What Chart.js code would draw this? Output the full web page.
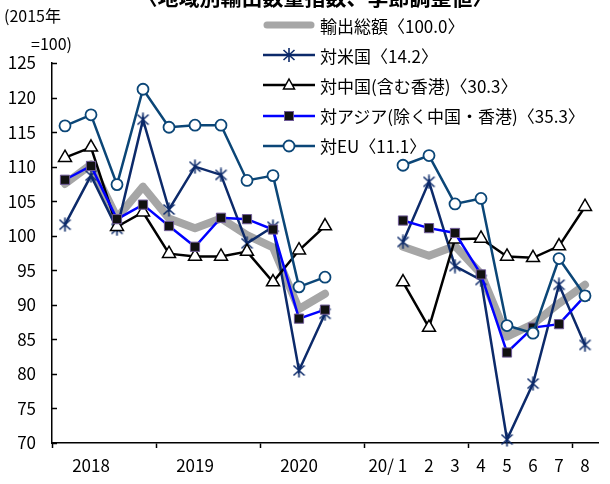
<!DOCTYPE html>
<html lang="ja">
<head>
<meta charset="utf-8">
<script src="https://cdn.jsdelivr.net/npm/chart.js@4.4.0/dist/chart.umd.min.js"></script>
<style>
html, body { margin: 0; padding: 0; background: #fff; }
#wrap { position: relative; width: 610px; height: 484px; overflow: hidden;
        font-family: 'Noto Sans CJK JP', 'Noto Sans', sans-serif; color: #000; }
#chart { position: absolute; left: 0; top: 0; }
#title { position: absolute; left: 0; width: 630px; top: -14px; text-align: center;
         font-size: 21px; font-weight: bold; line-height: 21px; white-space: nowrap; }
.unit { position: absolute; font-size: 16px; line-height: 20px; white-space: nowrap; }
#legend { position: absolute; left: 263px; top: 10px; }
.row { display: flex; align-items: center; height: 30.2px; font-size: 17px; white-space: nowrap; }
.row svg { margin-right: 5px; flex: none; }
</style>
</head>
<body>
<div id="wrap">
  <canvas id="chart" width="610" height="484"></canvas>
  <div id="title">〈地域別輸出数量指数、季節調整値〉</div>
  <div class="unit" style="left:4px;top:5px;">(2015年</div>
  <div class="unit" style="left:31px;top:33px;">=100)</div>
  <div id="legend"></div>
</div>
<script>
// Quarterly 2018Q1–2020Q3, an empty quarter, a spacer, then monthly 2020/1–8
const categories = [
  '2018Q1', '2018Q2', '2018Q3', '2018Q4',
  '2019Q1', '2019Q2', '2019Q3', '2019Q4',
  '2020Q1', '2020Q2', '2020Q3', '2020Q4',
  'gap',
  '20/1', '20/2', '20/3', '20/4', '20/5', '20/6', '20/7', '20/8'
];
const xTickLabels = [
  '', '2018', '', '',
  '', '2019', '', '',
  '', '2020', '', '',
  '',
  '20/ 1        ', '2', '3', '4', '5', '6', '7', '8'
];
const yMin = 70, yMax = 125, yStep = 5;

const seriesNames = [
  '輸出総額〈100.0〉',
  '対米国〈14.2〉',
  '対中国(含む香港)〈30.3〉',
  '対アジア(除く中国・香港)〈35.3〉',
  '対EU〈11.1〉'
];

const totalExports = [107.5, 110.3, 102.6, 107.1, 102.5, 101.1, 102.5, 100.1, 98.3, 89.4, 91.6, null, null,
                      98.4, 97.1, 98.5, 94.5, 85.4, 87.2, 90.2, 92.9];
const toUS         = [101.6, 108.7, 101.0, 116.8, 103.8, 110.0, 108.8, 98.9, 101.3, 80.5, 88.7, null, null,
                      99.1, 107.8, 95.6, 93.6, 70.5, 78.6, 92.9, 84.2];
const toChina      = [111.3, 112.8, 101.3, 103.4, 97.4, 97.0, 97.0, 97.7, 93.3, 97.9, 101.4, null, null,
                      93.3, 86.7, 99.5, 99.6, 97.0, 96.8, 98.5, 104.2];
const toAsia       = [108.1, 110.1, 102.4, 104.5, 101.4, 98.4, 102.6, 102.4, 100.9, 88.0, 89.3, null, null,
                      102.2, 101.1, 100.4, 94.4, 83.1, 86.7, 87.2, 91.3];
const toEU         = [115.9, 117.5, 107.4, 121.2, 115.7, 116.0, 116.0, 108.0, 108.7, 92.6, 94.0, null, null,
                      110.2, 111.6, 104.6, 105.4, 87.0, 85.9, 96.7, 91.3];

const C_TOTAL = '#a6a6a6';
const C_US = '#0c2a6a';
const C_CHINA = '#000000';
const C_ASIA = '#0000ff';
const C_EU = '#0b4677';

// asterisk-shaped marker (X with a vertical bar)
function asteriskMarker(color) {
  const c = document.createElement('canvas');
  c.width = 13; c.height = 15;
  const g = c.getContext('2d');
  g.strokeStyle = color; g.lineWidth = 1.6;
  g.beginPath();
  g.moveTo(6.5, 0.5); g.lineTo(6.5, 14.5);
  g.moveTo(1, 2.5); g.lineTo(12, 12.5);
  g.moveTo(12, 2.5); g.lineTo(1, 12.5);
  g.stroke();
  return c;
}

// short inward tick marks on the value axis
const innerYTicks = {
  id: 'innerYTicks',
  afterDraw(chart) {
    const s = chart.scales.y, ctx = chart.ctx;
    ctx.save();
    ctx.strokeStyle = '#000'; ctx.lineWidth = 1.5;
    s.ticks.forEach(t => {
      const py = Math.round(s.getPixelForValue(t.value)) + 0.5;
      ctx.beginPath(); ctx.moveTo(s.right, py); ctx.lineTo(s.right + 5, py); ctx.stroke();
    });
    ctx.restore();
  }
};

Chart.defaults.font.family = "'Noto Sans CJK JP', 'Noto Sans', sans-serif";
Chart.defaults.font.size = 17;
Chart.defaults.color = '#000';

const base = { spanGaps: false, clip: false, tension: 0, fill: false };

new Chart(document.getElementById('chart'), {
  type: 'line',
  data: {
    labels: categories,
    datasets: [
      { ...base, label: seriesNames[0], data: totalExports, order: 5,
        borderColor: C_TOTAL, borderWidth: 8, borderCapStyle: 'round', borderJoinStyle: 'round',
        pointRadius: 0, pointHoverRadius: 0 },
      { ...base, label: seriesNames[1], data: toUS, order: 4,
        borderColor: C_US, borderWidth: 2.5,
        pointStyle: asteriskMarker(C_US), pointRadius: 6 },
      { ...base, label: seriesNames[2], data: toChina, order: 3,
        borderColor: C_CHINA, borderWidth: 2.5,
        pointStyle: 'triangle', pointRadius: 7.5, pointBorderWidth: 1.5,
        pointBackgroundColor: '#fff', pointBorderColor: C_CHINA },
      { ...base, label: seriesNames[3], data: toAsia, order: 2,
        borderColor: C_ASIA, borderWidth: 2.5,
        pointStyle: 'rect', pointRadius: 6.5, pointBorderWidth: 1,
        pointBackgroundColor: '#111', pointBorderColor: '#6e5a96' },
      { ...base, label: seriesNames[4], data: toEU, order: 1,
        borderColor: C_EU, borderWidth: 2.5,
        pointStyle: 'circle', pointRadius: 5.5, pointBorderWidth: 1.8,
        pointBackgroundColor: '#fff', pointBorderColor: C_EU }
    ]
  },
  options: {
    responsive: false,
    animation: false,
    events: [],
    layout: { padding: { left: 0, right: 12, top: 63, bottom: 0 } },
    plugins: { legend: { display: false }, tooltip: { enabled: false } },
    scales: {
      x: {
        type: 'category',
        offset: true,
        grid: {
          display: true, offset: true, drawOnChartArea: false, drawTicks: true,
          tickLength: 5, tickWidth: 1.5,
          tickColor: ctx => (ctx.tick && ctx.index % 4 === 0) ? '#000' : 'rgba(0,0,0,0)'
        },
        border: { display: true, color: '#000', width: 1.5 },
        ticks: {
          autoSkip: false, maxRotation: 0, minRotation: 0, padding: 7,
          callback: (v, i) => xTickLabels[i]
        },
        afterFit: s => { s.height = 41; }
      },
      y: {
        min: yMin, max: yMax,
        grid: { display: false, drawTicks: false },
        border: { display: true, color: '#000', width: 1.5 },
        ticks: { stepSize: yStep, padding: 16 },
        afterFit: s => { s.width = 52; }
      }
    }
  },
  plugins: [innerYTicks]
});

// legend rows: line sample with marker, then series name
function markerSvg(i) {
  const w = 52, h = 20, cy = 10;
  let line, mark = '';
  if (i === 0) {
    line = `<line x1="4" y1="${cy}" x2="${w - 4}" y2="${cy}" stroke="${C_TOTAL}" stroke-width="7" stroke-linecap="round"/>`;
  } else {
    const col = [null, C_US, C_CHINA, C_ASIA, C_EU][i];
    line = `<line x1="0" y1="${cy}" x2="${w}" y2="${cy}" stroke="${col}" stroke-width="2.5"/>`;
    const cx = w / 2;
    if (i === 1) {
      mark = `<path d="M${cx} ${cy - 7}V${cy + 7}M${cx - 5.5} ${cy - 5}L${cx + 5.5} ${cy + 5}M${cx + 5.5} ${cy - 5}L${cx - 5.5} ${cy + 5}" stroke="${C_US}" stroke-width="1.6" fill="none"/>`;
    } else if (i === 2) {
      mark = `<polygon points="${cx},${cy - 6} ${cx + 5.5},${cy + 4} ${cx - 5.5},${cy + 4}" fill="#fff" stroke="#000" stroke-width="1.5"/>`;
    } else if (i === 3) {
      mark = `<rect x="${cx - 4.5}" y="${cy - 4.5}" width="9" height="9" fill="#111" stroke="#6e5a96" stroke-width="1"/>`;
    } else {
      mark = `<circle cx="${cx}" cy="${cy}" r="5.5" fill="#fff" stroke="${C_EU}" stroke-width="1.8"/>`;
    }
  }
  return `<svg width="${w}" height="${h}" viewBox="0 0 ${w} ${h}">${line}${mark}</svg>`;
}
document.getElementById('legend').innerHTML = seriesNames
  .map((n, i) => `<div class="row">${markerSvg(i)}<span>${n}</span></div>`).join('');
</script>
</body>
</html>
